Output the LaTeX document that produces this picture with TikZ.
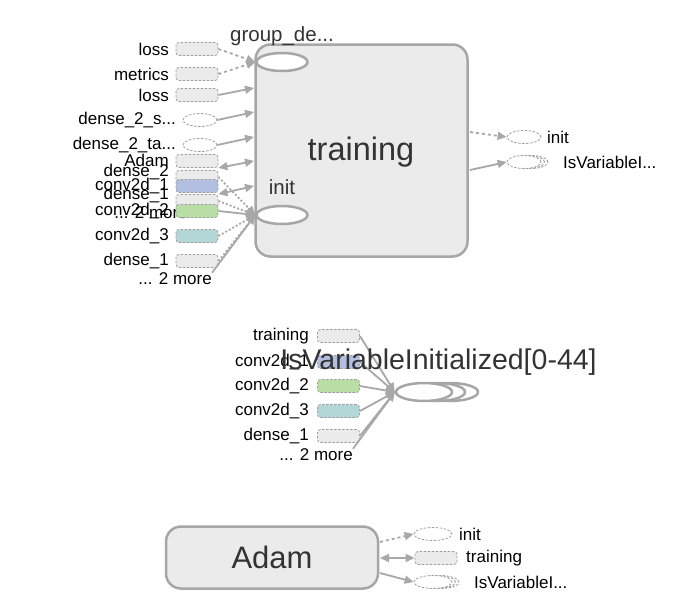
\documentclass[tikz,border=0pt]{standalone}
\usepackage{fontspec}
\setmainfont{Liberation Sans}
\usetikzlibrary{arrows.meta,shapes.geometric}

\definecolor{opgray}{HTML}{EBEBEB}
\definecolor{opblue}{HTML}{B3BFE0}
\definecolor{opgreen}{HTML}{B8DEA5}
\definecolor{opteal}{HTML}{B3D7D7}
\definecolor{rim}{HTML}{A6A6A6}
\definecolor{edgegray}{HTML}{A8A8A8}
\definecolor{dashgray}{HTML}{9E9E9E}
\definecolor{titlegray}{HTML}{333333}

\tikzset{
  opbox/.style={draw=dashgray, dash pattern=on 2.5pt off 1.5pt, rounded corners=3pt,
    minimum width=42pt, minimum height=13pt, inner sep=0pt, fill=#1, line width=0.8pt},
  opbox/.default=opgray,
  opell/.style={draw=dashgray, dash pattern=on 2.5pt off 1.5pt, ellipse,
    minimum width=34pt, minimum height=13pt, inner sep=0pt, fill=white, line width=0.8pt},
  lbl/.style={font=\fontsize{17}{19}\selectfont, inner sep=0pt, anchor=east},
  rlbl/.style={font=\fontsize{17}{19}\selectfont, inner sep=0pt, anchor=west},
  bigbox/.style={draw=rim, line width=2.5pt, rounded corners=15pt, fill=opgray,
    inner sep=0pt, text=titlegray, font=\fontsize{31}{35}\selectfont},
  inell/.style={draw=rim, line width=2.5pt, ellipse, fill=white,
    minimum width=51pt, minimum height=18pt, inner sep=0pt},
  subttl/.style={font=\fontsize{20.5}{23}\selectfont, text=titlegray, inner sep=0pt},
  flow/.style={draw=edgegray, line width=1.8pt, -{Triangle[length=9pt,width=8pt]}},
  both/.style={draw=edgegray, line width=1.8pt, {Triangle[length=9pt,width=8pt]}-{Triangle[length=9pt,width=8pt]}},
  ctrl/.style={flow, dash pattern=on 3pt off 3pt},
  dots/.style={flow, dash pattern=on 2pt off 2pt}
}

\begin{document}
\begin{tikzpicture}[x=1pt,y=-1pt]
\useasboundingbox (0,0) rectangle (692,613);

%% training group
\node[bigbox, minimum width=212pt, minimum height=212pt] (train) at (361.5,150.5) {};
\node[text=titlegray, font=\fontsize{32.5}{36}\selectfont] (traintxt) at (361,152) {training};
\node[subttl] (gdtxt) at (282,36) {group\_de...};
\node[inell] (ug) at (282,62) {};
\node[subttl] (inittxt) at (282,187) {init};
\node[inell] (lg) at (282,215) {};

\coordinate (e1) at (254,88);
\coordinate (e2) at (254,112);
\coordinate (e3) at (254,137);
\coordinate (e4) at (254,161);
\coordinate (e5) at (254,186);

%% inputs of training
\foreach \nm/\by/\ly/\txt/\col in {la/49/49/loss/opgray, lm/74/74/metrics/opgray, lb/95/95/loss/opgray,
  ad/161/160/Adam/opgray, dn2/177/172/dense\_2/opgray, cv1/186/186/conv2d\_1/opblue,
  dn1/201/195/dense\_1/opgray}
{
  \node[lbl] (\nm l) at (169,\ly) {\txt};
  \node[opbox=\col] (\nm) at (197,\by) {};
}
\node[lbl] (hid) at (188,213) {... 2 more};
\foreach \nm/\by/\txt/\col in {cv2/211/conv2d\_2/opgreen, cv3/236/conv2d\_3/opteal, dd1/261/dense\_1/opgray}
{
  \node[lbl] (\nm l) at (169,\by) {\txt};
  \node[opbox=\col] (\nm) at (197,\by) {};
}
\node[lbl] (more1) at (212,279) {... 2 more};

\node[lbl] (dsl) at (176,120) {dense\_2\_s...};
\node[opell] (ds) at (200,120) {};
\node[lbl] (dtl) at (176,145) {dense\_2\_ta...};
\node[opell] (dt) at (200,145) {};

\draw[ctrl] (la.east) -- (ug.west);
\draw[ctrl] (lm.east) -- (ug.west);
\draw[flow] (lb.east) -- (e1);
\draw[flow] (ds.east) -- (e2);
\draw[flow] (dt.east) -- (e3);
\draw[both] (ad.south east) -- (e4);
\draw[both] (dn1.north east) -- (e5);
\draw[dots] (dn2.east) -- (lg.west);
\draw[dots] (dn1.east) -- (lg.west);
\draw[flow] (cv2.east) -- (lg.west);
\draw[dots] (cv3.east) -- (lg.west);
\draw[dots] (dd1.east) -- (lg.west);
\draw[flow] (more1.north east) -- (lg.west);

%% outputs of training
\coordinate (o1) at (470,132);
\coordinate (o2) at (470,170);
\node[opell] (ini) at (524,137) {};
\node[rlbl] (inil) at (547,137) {init};
\node[opell] at (531,162) {};
\node[opell] at (527.5,162) {};
\node[opell] (isv) at (524,162) {};
\node[rlbl] (isvl) at (563,162) {IsVariableI...};
\draw[ctrl] (o1) -- (ini.west);
\draw[flow] (o2) -- (isv.west);

%% IsVariableInitialized group
\node[inell, minimum width=56pt] at (450,392) {};
\node[inell, minimum width=56pt] at (437,392) {};
\node[inell, minimum width=56pt] (mid) at (424,392) {};
\foreach \nm/\by/\txt/\col in {m1/336/training/opgray, m2/362/conv2d\_1/opblue,
  m3/386/conv2d\_2/opgreen, m4/411/conv2d\_3/opteal, m5/436/dense\_1/opgray}
{
  \node[lbl] (\nm l) at (309,\by) {\txt};
  \node[opbox=\col] (\nm) at (338.5,\by) {};
  \draw[flow] (\nm.east) -- (mid.west);
}
\node[lbl] (more2) at (353,455) {... 2 more};
\draw[flow] (more2.north east) -- (mid.west);
\node[text=titlegray, font=\fontsize{28.5}{32}\selectfont, inner sep=0pt, anchor=base] (ivtxt) at (438.5,369) {IsVariableInitialized[0-44]};

%% Adam group
\node[bigbox, minimum width=212pt, minimum height=62pt] (adam) at (272,557.5) {Adam};
\coordinate (b1) at (380,542);
\coordinate (b2) at (380,558);
\coordinate (b3) at (380,573);
\node[opell, minimum width=38pt] (bini) at (433,534) {};
\node[rlbl] (binil) at (459,534) {init};
\node[opbox] (btr) at (436,558) {};
\node[rlbl] (btrl) at (466,558) {training};
\node[opell, minimum width=38pt] at (440,582) {};
\node[opell, minimum width=38pt] at (436.5,582) {};
\node[opell, minimum width=38pt] (bisv) at (433,582) {};
\node[rlbl] (bisvl) at (474,582) {IsVariableI...};
\draw[ctrl] (b1) -- (bini.west);
\draw[both] (b2) -- (btr.west);
\draw[flow] (b3) -- (bisv.west);

\end{tikzpicture}
\end{document}
